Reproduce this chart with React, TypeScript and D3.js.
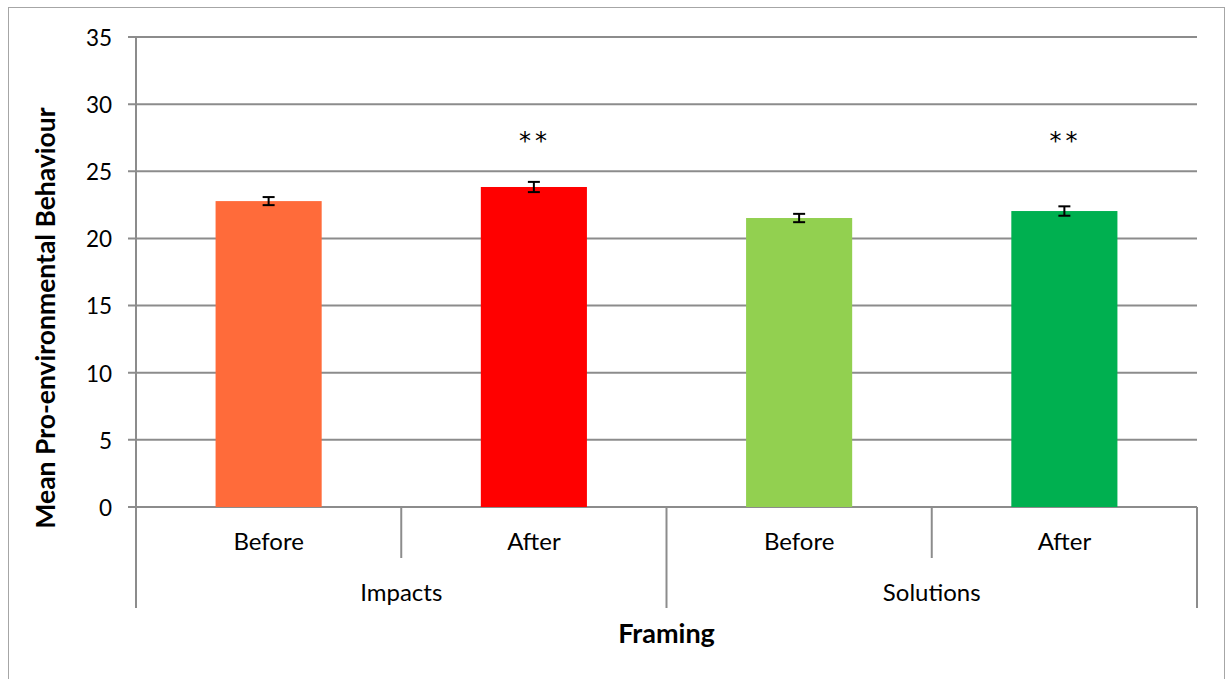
import React from "react";
import * as d3 from "d3";

const groups = ["Impacts", "Solutions"];
const times = ["Before", "After"];
const categories = ["Impacts|Before", "Impacts|After", "Solutions|Before", "Solutions|After"];
const means = [22.78, 23.83, 21.52, 22.04];
const errors = [0.3, 0.38, 0.31, 0.35];
const significance = ["", "**", "", "**"];
const colors = ["#FF6B3A", "#FF0000", "#92D050", "#00B050"];
const yTicks = [0, 5, 10, 15, 20, 25, 30, 35];

const W = 1226;
const H = 679;
const left = 136;
const right = 1197;
const top = 37;
const bottom = 507;
const FONT = "Lato, Carlito, 'Open Sans', sans-serif";

export default function App() {
  const x = d3.scaleBand<string>().domain(categories).range([left, right]).paddingInner(0.6).paddingOuter(0.3);
  const xOuter = d3.scaleBand<string>().domain(categories).range([left, right]);
  const y = d3.scaleLinear().domain([0, 35]).range([bottom, top]);
  const step = xOuter.step();

  return (
    <svg width={W} height={H} style={{ position: "absolute", left: 0, top: 0 }} fontFamily={FONT}>
      <rect x={0} y={0} width={W} height={H} fill="#fff" />
      <rect x={8.5} y={7.5} width={1216} height={680} fill="none" stroke="#a6a6a6" strokeWidth={1} />
      {yTicks.map((t) => (
        <g key={t}>
          <line x1={left - 8} x2={right} y1={y(t)} y2={y(t)} stroke="#8c8c8c" strokeWidth={2} />
          <text x={left - 24} y={y(t) + 1} dy="0.35em" textAnchor="end" fontSize={22.5} fill="#000">
            {t}
          </text>
        </g>
      ))}
      <line x1={left} x2={left} y1={top} y2={bottom} stroke="#8c8c8c" strokeWidth={2} />
      {categories.map((c, i) => (
        <g key={c}>
          <rect x={x(c)} y={y(means[i])} width={x.bandwidth()} height={y(0) - y(means[i])} fill={colors[i]} />
          <g stroke="#000" strokeWidth={2}>
            <line x1={x(c)! + x.bandwidth() / 2} x2={x(c)! + x.bandwidth() / 2} y1={y(means[i] + errors[i])} y2={y(means[i] - errors[i])} />
            <line x1={x(c)! + x.bandwidth() / 2 - 6} x2={x(c)! + x.bandwidth() / 2 + 6} y1={y(means[i] + errors[i])} y2={y(means[i] + errors[i])} />
            <line x1={x(c)! + x.bandwidth() / 2 - 6} x2={x(c)! + x.bandwidth() / 2 + 6} y1={y(means[i] - errors[i])} y2={y(means[i] - errors[i])} />
          </g>
          {significance[i] && (
            <text x={x(c)! + x.bandwidth() / 2 + 1} y={149} textAnchor="middle" fontSize={24} letterSpacing={4} fontFamily="'DejaVu Sans', sans-serif" fill="#000">
              {significance[i]}
            </text>
          )}
          <text x={xOuter(c)! + step / 2} y={550} textAnchor="middle" fontSize={24} fill="#000">
            {times[i % 2]}
          </text>
        </g>
      ))}
      {categories.map((c, i) => (
        <line key={"s" + c} x1={xOuter(c)!} x2={xOuter(c)!} y1={bottom} y2={i % 2 === 0 ? 608 : 558} stroke="#8c8c8c" strokeWidth={2} />
      ))}
      <line x1={right} x2={right} y1={bottom} y2={608} stroke="#8c8c8c" strokeWidth={2} />
      {groups.map((g, gi) => (
        <text key={g} x={xOuter(categories[gi * 2])! + step} y={601} textAnchor="middle" fontSize={24} fill="#000">
          {g}
        </text>
      ))}
      <text x={(left + right) / 2} y={643} textAnchor="middle" fontSize={27} fontWeight="bold" fill="#000">
        Framing
      </text>
      <text transform={`translate(55, 318) rotate(-90)`} textAnchor="middle" fontSize={26.5} fontWeight="bold" fill="#000">
        Mean Pro-environmental Behaviour
      </text>
    </svg>
  );
}
